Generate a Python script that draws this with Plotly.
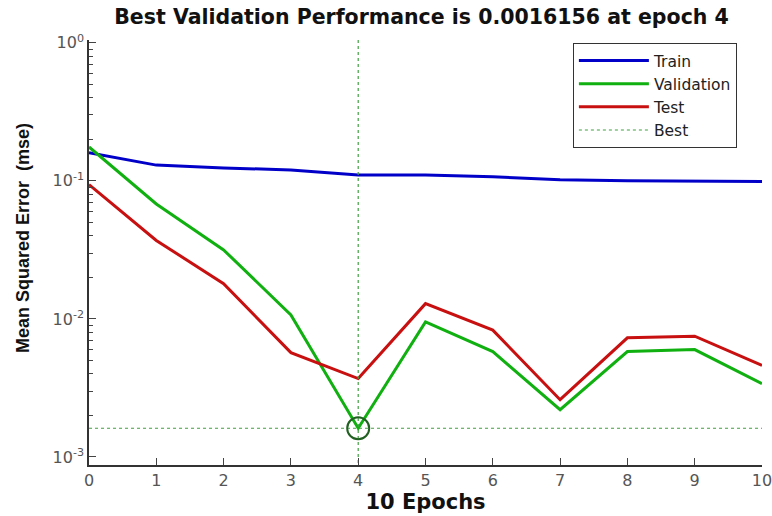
import plotly.graph_objects as go

epochs = [0, 1, 2, 3, 4, 5, 6, 7, 8, 9, 10]
train = [0.16, 0.13, 0.124, 0.12, 0.11, 0.11, 0.107, 0.102, 0.10, 0.10, 0.099]
validation = [0.176, 0.068, 0.0316, 0.0107, 0.0016156, 0.0095, 0.0058, 0.0022, 0.0058, 0.006, 0.0034]
test = [0.094, 0.037, 0.018, 0.0057, 0.0037, 0.0129, 0.0083, 0.0026, 0.0073, 0.0075, 0.0046]
best_epoch = 4
best_perf = 0.0016156
ytick_vals = [1e-3, 1e-2, 1e-1, 1]
ytick_text = ["10<sup>-3</sup>", "10<sup>-2</sup>", "10<sup>-1</sup>", "10<sup>0</sup>"]

minor_vals = [m * 10 ** e for e in (-3, -2, -1) for m in range(2, 10)]

WIDE = "DejaVu Sans, Verdana, sans-serif"

fig = go.Figure()
fig.add_trace(go.Scatter(x=epochs, y=train, mode="lines", name="Train",
                         line=dict(color="#0000c8", width=3)))
fig.add_trace(go.Scatter(x=epochs, y=validation, mode="lines", name="Validation",
                         line=dict(color="#10b010", width=3)))
fig.add_trace(go.Scatter(x=epochs, y=test, mode="lines", name="Test",
                         line=dict(color="#c81010", width=3)))
fig.add_trace(go.Scatter(x=[best_epoch, best_epoch, None, epochs[0], epochs[-1]],
                         y=[10 ** 0.02, 10 ** -3.06, None, best_perf, best_perf],
                         mode="lines", name="Best",
                         line=dict(color="#40a040", width=1.2, dash="dot")))
fig.add_trace(go.Scatter(x=[best_epoch], y=[best_perf], mode="markers", showlegend=False,
                         marker=dict(symbol="circle-open", size=22, color="#206020",
                                     line=dict(width=2, color="#206020"))))

fig.update_layout(
    width=772, height=516,
    margin=dict(l=89, r=10, t=40, b=51),
    paper_bgcolor="white", plot_bgcolor="white",
    font=dict(family="Liberation Sans, Arial, sans-serif", color="#222"),
    title=dict(text="<b>Best Validation Performance is 0.0016156 at epoch 4</b>",
               x=0.546, xanchor="center", y=0.967, yanchor="middle",
               font=dict(family=WIDE, size=20.5, color="#111")),
    showlegend=True,
    legend=dict(x=0.719, y=0.993, xanchor="left", yanchor="top",
                bordercolor="#333", borderwidth=1, bgcolor="white",
                itemwidth=70, entrywidth=96,
                font=dict(family=WIDE, size=15.5, color="#222"),
                tracegroupgap=0),
    xaxis=dict(range=[0, 10], tickvals=epochs, ticks="inside", ticklen=7,
               showgrid=False, zeroline=False, showline=True, linecolor="#333", linewidth=1.5,
               automargin=False, ticklabeloverflow="allow",
               tickfont=dict(family=WIDE, size=16, color="#555"),
               title=dict(text="<b>10 Epochs</b>", font=dict(family=WIDE, size=21, color="#111"),
                          standoff=0)),
    yaxis=dict(type="log", range=[-3.058, 0.02], tickvals=ytick_vals, ticktext=ytick_text,
               ticks="inside", ticklen=7, showgrid=False, zeroline=False,
               showline=True, linecolor="#333", linewidth=1.5,
               automargin=False,
               tickfont=dict(family=WIDE, size=16, color="#555"),
               minor=dict(tickvals=minor_vals, ticks="inside", ticklen=4, showgrid=False)),
    annotations=[dict(text="<b>Mean Squared Error  (mse)</b>", textangle=-90,
                      xref="paper", yref="paper", x=-0.098, y=0.534,
                      xanchor="center", yanchor="middle", showarrow=False,
                      font=dict(family="Liberation Sans, Arial, sans-serif", size=18, color="#111"))],
)

fig.write_html("out.html", config={"displayModeBar": False},
               post_script="document.body.style.margin='0';document.body.style.overflow='hidden';")
